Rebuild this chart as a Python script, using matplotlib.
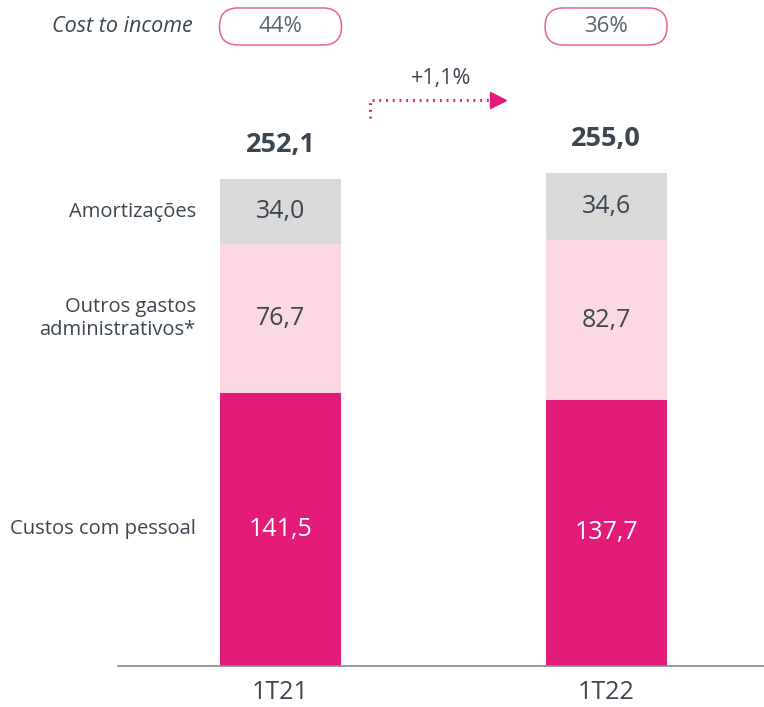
import numpy as np
import matplotlib.pyplot as plt
from matplotlib.patches import FancyBboxPatch
from matplotlib.transforms import IdentityTransform

plt.rcParams['font.family'] = ['Open Sans', 'DejaVu Sans']

# data
periods = ['1T21', '1T22']
custos_pessoal = [141.5, 137.7]
outros_gastos = [76.7, 82.7]
amortizacoes = [34.0, 34.6]
totals = [252.1, 255.0]
cost_to_income = ['44%', '36%']
growth = '+1,1%'
categories = ['Custos com pessoal', 'Outros gastos\nadministrativos*', 'Amortizações']

magenta = '#E31C79'
light_pink = '#FCD9E2'
grey = '#D9D9D9'
text_col = '#3C4650'

fig = plt.figure(figsize=(7.64, 7.07), dpi=100)
ax = fig.add_axes([118/764, 41/707, 646/764, 666/707])

x = np.arange(len(periods))
w = 0.372
layers = [custos_pessoal, outros_gastos, amortizacoes]
colors = [magenta, light_pink, grey]
label_cols = ['white', text_col, text_col]

def fmt(v):
    return f'{v:.1f}'.replace('.', ',')

bottom = np.zeros(len(periods))
for vals, c, lc, cat in zip(layers, colors, label_cols, categories):
    vals = np.array(vals)
    ax.bar(x, vals, w, bottom=bottom, color=c, linewidth=0)
    for xi, b, v in zip(x, bottom, vals):
        ax.text(xi, b + v/2, fmt(v), ha='center', va='center', fontsize=18, color=lc)
    # category label beside first bar
    ax.text(-0.26, bottom[0] + vals[0]/2, cat, ha='right', va='center',
            fontsize=14.5, color=text_col, linespacing=1.25, clip_on=False)
    bottom = bottom + vals

for xi, t in zip(x, totals):
    ax.text(xi, t + 17.7, fmt(t), ha='center', va='center', fontsize=19.5,
            fontweight='bold', color=text_col)

ax.set_xlim(-0.499, 1.485)
ax.set_ylim(0, 344.7)

# cost to income pills (drawn in pixels so the rounding stays round)
ax.text(-0.269, 331, 'Cost to income', ha='right', va='center', fontsize=15.5,
        style='italic', color=text_col, clip_on=False)
for xi, s in zip(x, cost_to_income):
    cx, cy = ax.transData.transform((xi, 331))
    pill = FancyBboxPatch((cx - 61, cy - 18.5), 122, 37,
                          boxstyle='round,pad=0,rounding_size=18.5',
                          transform=IdentityTransform(), fc='white', ec='#E8609C',
                          lw=1.1, clip_on=False, zorder=1)
    ax.add_artist(pill)
    ax.text(xi, 331, s, ha='center', va='center', fontsize=16, color='#5A6470', zorder=3)

# growth arrow
ax.plot([0.275, 0.275, 0.65], [283.6, 293, 293], color=magenta, lw=2.2,
        linestyle=(0, (0.6, 1.6)))
ax.plot([0.668], [293], marker='>', color=magenta, markersize=11, lw=0)
ax.text(0.493, 304.3, growth, ha='center', va='center', fontsize=15.5, color=text_col)

ax.set_xticks(x)
ax.set_xticklabels(periods, fontsize=18, color=text_col)
ax.tick_params(axis='x', length=0, pad=10)
ax.set_yticks([])
for s in ['top', 'right', 'left']:
    ax.spines[s].set_visible(False)
ax.spines['bottom'].set_color('#7F8A94')
ax.spines['bottom'].set_linewidth(1.2)

fig.savefig('out.png', dpi=100)
